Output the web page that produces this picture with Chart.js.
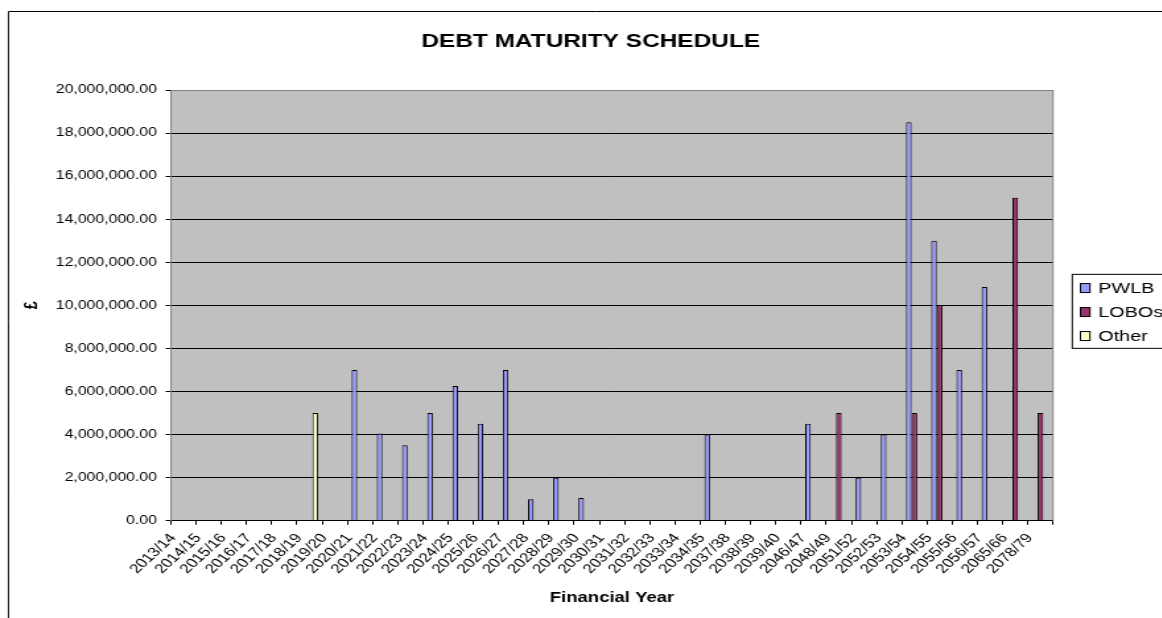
<!DOCTYPE html>
<html>
<head>
<meta charset="utf-8">
<script src="https://cdn.jsdelivr.net/npm/chart.js@4.4.0/dist/chart.umd.min.js"></script>
<style>
  html, body { margin: 0; padding: 0; background: #fff; }
  #view { width: 1162px; height: 618px; overflow: hidden; }
  /* the reference picture is a chart stretched sideways, so draw narrow and stretch */
  #stretch { width: 895px; transform: scaleX(1.32); transform-origin: 0 0; }
  canvas { display: block; }
</style>
</head>
<body>
<div id="view"><div id="stretch"><canvas id="debtChart" width="895" height="630"></canvas></div></div>
<script>
// Categories (financial years)
const years = [
  "2013/14", "2014/15", "2015/16", "2016/17", "2017/18", "2018/19", "2019/20",
  "2020/21", "2021/22", "2022/23", "2023/24", "2024/25", "2025/26", "2026/27",
  "2027/28", "2028/29", "2029/30", "2030/31", "2031/32", "2032/33", "2033/34",
  "2034/35", "2037/38", "2038/39", "2039/40", "2046/47", "2048/49", "2051/52",
  "2052/53", "2053/54", "2054/55", "2055/56", "2056/57", "2065/66", "2078/79"
];

// Series values (GBP), null = nothing maturing
const pwlb = [
  null, null, null, null, null, null, null,
  7000000, 4050000, 3500000, 5000000, 6250000, 4500000, 7000000,
  1000000, 2000000, 1050000, null, null, null, null,
  4000000, null, null, null, 4500000, null, 2000000,
  4000000, 18500000, 13000000, 7000000, 10850000, null, null
];
const lobos = [
  null, null, null, null, null, null, null,
  null, null, null, null, null, null, null,
  null, null, null, null, null, null, null,
  null, null, null, null, null, 5000000, null,
  null, 5000000, 10000000, null, null, 15000000, 5000000
];
const other = [
  null, null, null, null, null, 5000000, null,
  null, null, null, null, null, null, null,
  null, null, null, null, null, null, null,
  null, null, null, null, null, null, null,
  null, null, null, null, null, null, null
];

// Value axis
const yMin = 0;
const yMax = 20000000;
const yStep = 2000000;

// Layout (canvas px, before the sideways stretch)
const SX = 1.32;
const FONT = "'Liberation Sans', Arial, sans-serif";
const PLOT_LEFT = 171 / SX;
const PLOT_RIGHT = 1053 / SX;
const PLOT_BOTTOM = 520.7;

function money(v) {
  const parts = Number(v).toFixed(2).split(".");
  return parts[0].replace(/\B(?=(\d{3})+(?!\d))/g, ",") + "." + parts[1];
}

Chart.defaults.font.family = FONT;
Chart.defaults.color = "#000";

// plot background, outer frame and right edge of the plot
const plotArea = {
  id: "plotArea",
  beforeDraw(chart) {
    const { ctx, chartArea: a } = chart;
    ctx.save();
    ctx.fillStyle = "#C0C0C0";
    ctx.fillRect(a.left, a.top, a.width, a.height);
    ctx.strokeStyle = "#000";
    ctx.lineWidth = 1;
    ctx.beginPath();
    ctx.moveTo(6.4, chart.height + 5);
    ctx.lineTo(6.4, 11.5);
    ctx.lineTo(chart.width + 5, 11.5);
    ctx.stroke();
    ctx.restore();
  },
  beforeDatasetsDraw(chart) {
    const { ctx, chartArea: a } = chart;
    ctx.save();
    ctx.strokeStyle = "#808080";
    ctx.lineWidth = 1;
    ctx.beginPath();
    ctx.moveTo(a.right, a.top);
    ctx.lineTo(a.right, a.bottom);
    ctx.stroke();
    ctx.restore();
  }
};

// boxed legend on the right, as its own layout box
const boxedLegend = {
  id: "boxedLegend",
  beforeInit(chart) {
    const box = {
      position: "right",
      weight: 0,
      fullSize: false,
      options: {},
      isHorizontal() { return false; },
      update(maxWidth, maxHeight) {
        this.width = chart.width - PLOT_RIGHT;
        this.height = maxHeight;
      },
      draw() {
        const ctx = chart.ctx;
        const mid = (this.top + this.bottom) / 2;
        const x = this.left;
        ctx.save();
        ctx.lineWidth = 1;
        ctx.strokeStyle = "#000";
        ctx.strokeRect(x + 14.6, mid - 31, 200, 74);
        ctx.font = "15px " + FONT;
        ctx.textBaseline = "middle";
        chart.data.datasets.forEach((ds, i) => {
          const cy = mid - 17.3 + i * 24;
          ctx.fillStyle = ds.backgroundColor;
          ctx.fillRect(x + 20.8, cy - 4.5, 7.2, 9);
          ctx.strokeRect(x + 20.8, cy - 4.5, 7.2, 9);
          ctx.fillStyle = "#000";
          ctx.fillText(ds.label, x + 34.3, cy + 0.5);
        });
        ctx.restore();
      }
    };
    Chart.layouts.addBox(chart, box);
  }
};

new Chart(document.getElementById("debtChart"), {
  type: "bar",
  data: {
    labels: years,
    datasets: [
      { label: "PWLB", data: pwlb, backgroundColor: "#9999FF", borderColor: "#000", borderWidth: 1 },
      { label: "LOBOs", data: lobos, backgroundColor: "#993366", borderColor: "#000", borderWidth: 1 },
      { label: "Other", data: other, backgroundColor: "#FFFFCC", borderColor: "#000", borderWidth: 1 }
    ]
  },
  options: {
    responsive: false,
    animation: false,
    events: [],
    layout: { padding: 0 },
    datasets: { bar: { categoryPercentage: 0.667, barPercentage: 1.0 } },
    plugins: {
      legend: { display: false },
      tooltip: { enabled: false },
      title: {
        display: true,
        text: "DEBT MATURITY SCHEDULE",
        font: { size: 18.5, weight: "bold", lineHeight: 1.2 },
        color: "#000",
        padding: { top: 30.7, bottom: 37.1 }
      }
    },
    scales: {
      x: {
        afterFit(scale) { scale.height = scale.chart.height - PLOT_BOTTOM; },
        grid: { offset: true, drawOnChartArea: false, drawTicks: true, tickLength: 4, color: "#000" },
        border: { color: "#000", width: 1 },
        ticks: {
          autoSkip: false,
          minRotation: 50,
          maxRotation: 50,
          padding: 6,
          labelOffset: -8,
          font: { size: 13 },
          color: "#000"
        },
        title: {
          display: true,
          text: "Financial Year",
          font: { size: 14, weight: "bold", lineHeight: 1.2 },
          color: "#000",
          padding: { top: 0, bottom: 23.6 }
        }
      },
      y: {
        min: yMin,
        max: yMax,
        afterFit(scale) { scale.width = PLOT_LEFT; },
        grid: {
          color: (c) => (c.tick && c.tick.value === yMax ? "#808080" : "#000"),
          tickColor: "#000",
          tickLength: 4
        },
        border: { color: "#808080", width: 1 },
        ticks: {
          stepSize: yStep,
          padding: 6.6,
          font: { size: 12 },
          color: "#000",
          callback: (v) => money(v)
        },
        title: {
          display: true,
          text: "£",
          font: { size: 14, weight: "bold", lineHeight: 1.2 },
          color: "#000",
          padding: { top: 15.5, bottom: 0 }
        }
      }
    }
  },
  plugins: [plotArea, boxedLegend]
});
</script>
</body>
</html>
